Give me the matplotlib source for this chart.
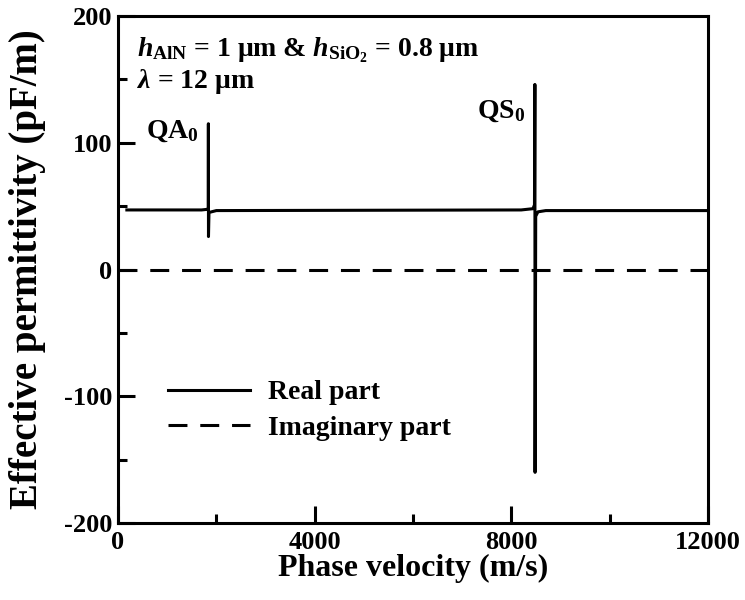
import matplotlib.pyplot as plt

plt.rcParams['font.family'] = ['Liberation Serif', 'DejaVu Serif']
plt.rcParams['font.weight'] = 'bold'
plt.rcParams['mathtext.fontset'] = 'custom'
plt.rcParams['mathtext.rm'] = 'Liberation Serif:bold'
plt.rcParams['mathtext.it'] = 'Liberation Serif:italic:bold'
plt.rcParams['mathtext.bf'] = 'Liberation Serif:bold'
plt.rcParams['axes.unicode_minus'] = False

# Real part of effective permittivity (pF/m) vs phase velocity (m/s)
v_real = [180, 1700, 1820, 1836, 1838, 1840, 1850, 2000, 8200, 8440, 8470,
          8478, 8482, 8495, 8540, 8700, 12000]
eps_real = [47, 47, 47.5, 48, 115, 26, 45, 46.5, 47, 48, 51,
            146, -160, 42, 45.5, 46.5, 46.5]

# Imaginary part
v_imag = [0, 12000]
eps_imag = [0, 0]

fig = plt.figure(figsize=(7.45, 6), dpi=100)
ax = fig.add_axes([0.1584, 0.1283, 0.792, 0.845])

ax.plot(v_real, eps_real, color='black', lw=2.2, label='Real part')
ax.plot(v_imag, eps_imag, color='black', lw=2.2, dashes=(6.2, 4.2),
        label='Imaginary part')

ax.set_xlim(0, 12000)
ax.set_ylim(-200, 200)
ax.set_xticks([0, 4000, 8000, 12000])
ax.set_xticks([2000, 6000, 10000], minor=True)
ax.set_yticks([-200, -100, 0, 100, 200])
ax.set_yticks([-150, -50, 50, 150], minor=True)
ax.tick_params(which='both', direction='in', top=False, right=False,
               width=2.2, labelsize=19)
ax.tick_params(which='major', length=12)
ax.tick_params(which='minor', length=6.5)
ax.tick_params(axis='x', pad=6)
ax.tick_params(axis='y', pad=4)
for s in ax.spines.values():
    s.set_linewidth(2.2)

ax.set_xlabel('Phase velocity (m/s)', fontsize=23, fontweight='bold', labelpad=0)
ax.set_ylabel('Effective permittivity (pF/m)', fontsize=28, fontweight='bold',
              labelpad=13)

ax.text(0.033, 0.921, r'$h_{\mathrm{AlN}}$ = 1 μm & $h_{\mathrm{SiO_2}}$ = 0.8 μm',
        transform=ax.transAxes, fontsize=20, va='baseline', ha='left')
ax.text(0.033, 0.858, r'$\lambda$ = 12 μm', transform=ax.transAxes,
        fontsize=20, va='baseline', ha='left')
ax.text(1100, 104, r'QA$_0$', fontsize=20, ha='center', va='baseline')
ax.text(7800, 120, r'QS$_0$', fontsize=20, ha='center', va='baseline')

ax.legend(loc='upper left', bbox_to_anchor=(0.085, 0.282), frameon=False,
          fontsize=20, handlelength=2.95, handletextpad=0.65,
          labelspacing=0.37, borderpad=0, borderaxespad=0)

fig.savefig('out.png', dpi=100)
